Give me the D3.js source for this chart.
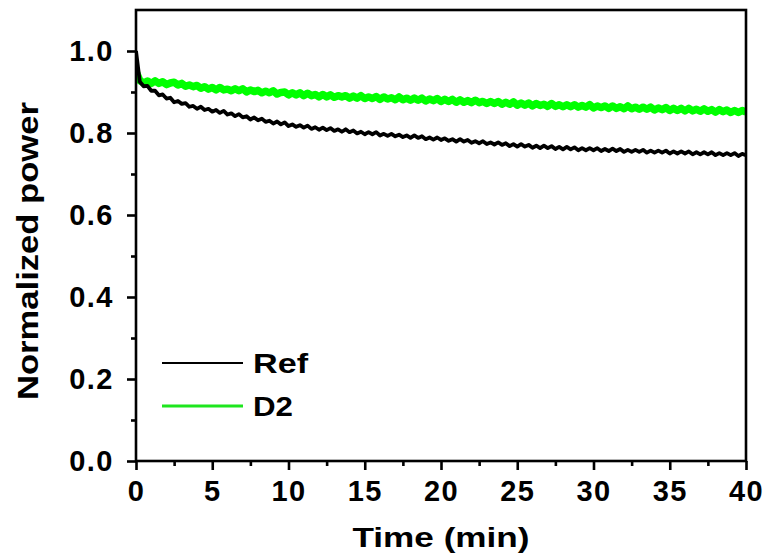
<!DOCTYPE html>
<html>
<head>
<meta charset="utf-8">
<script src="https://cdn.jsdelivr.net/npm/d3@7"></script>
<style>
  html, body { margin: 0; padding: 0; background: #fff; }
  svg { display: block; }
  text { font-family: "Liberation Sans", Arial, sans-serif; font-weight: bold; fill: #000; }
</style>
</head>
<body>
<svg id="chart" width="767" height="560"></svg>
<script>
// ---- data ----
const timeStep = 0.25; // min, sampling interval of both series (t = 0 ... 40)
const xTicks = [0, 5, 10, 15, 20, 25, 30, 35, 40];
const yTicks = [0.0, 0.2, 0.4, 0.6, 0.8, 1.0];
const yTickLabels = ["0.0", "0.2", "0.4", "0.6", "0.8", "1.0"];
const seriesNames = ["Ref", "D2"];
const refPower = [
  1.000,
  0.925, 0.914, 0.915, 0.903, 0.903, 0.892, 0.894, 0.884,
  0.886, 0.875, 0.878, 0.871, 0.873, 0.864, 0.866, 0.859,
  0.864, 0.856, 0.859, 0.852, 0.856, 0.849, 0.854, 0.845,
  0.848, 0.841, 0.846, 0.838, 0.841, 0.833, 0.838, 0.831,
  0.835, 0.827, 0.830, 0.823, 0.828, 0.821, 0.826, 0.817,
  0.821, 0.815, 0.819, 0.813, 0.818, 0.810, 0.814, 0.808,
  0.813, 0.807, 0.812, 0.805, 0.809, 0.803, 0.809, 0.802,
  0.806, 0.799, 0.803, 0.797, 0.802, 0.797, 0.802, 0.794,
  0.798, 0.793, 0.798, 0.792, 0.796, 0.790, 0.794, 0.788,
  0.794, 0.788, 0.792, 0.785, 0.789, 0.784, 0.789, 0.783,
  0.787, 0.781, 0.785, 0.779, 0.785, 0.779, 0.783, 0.776,
  0.780, 0.775, 0.780, 0.773, 0.777, 0.772, 0.777, 0.771,
  0.775, 0.768, 0.773, 0.767, 0.773, 0.767, 0.771, 0.764,
  0.769, 0.763, 0.769, 0.763, 0.768, 0.761, 0.766, 0.760,
  0.766, 0.760, 0.765, 0.758, 0.763, 0.758, 0.763, 0.758,
  0.763, 0.756, 0.761, 0.756, 0.762, 0.756, 0.761, 0.754,
  0.759, 0.754, 0.759, 0.754, 0.759, 0.752, 0.757, 0.752,
  0.757, 0.752, 0.757, 0.750, 0.755, 0.750, 0.755, 0.750,
  0.755, 0.748, 0.753, 0.748, 0.753, 0.748, 0.753, 0.746,
  0.751, 0.746, 0.751, 0.746, 0.751, 0.744, 0.749, 0.746
];
const d2Power = [
  0.950,
  0.928, 0.922, 0.927, 0.921, 0.927, 0.921, 0.925, 0.918,
  0.922, 0.924, 0.917, 0.921, 0.914, 0.917, 0.913, 0.916,
  0.909, 0.913, 0.907, 0.911, 0.905, 0.911, 0.905, 0.907,
  0.903, 0.908, 0.903, 0.908, 0.900, 0.905, 0.901, 0.904,
  0.898, 0.902, 0.898, 0.903, 0.895, 0.899, 0.900, 0.893,
  0.898, 0.893, 0.898, 0.891, 0.897, 0.891, 0.894, 0.888,
  0.894, 0.888, 0.893, 0.887, 0.891, 0.888, 0.891, 0.885,
  0.890, 0.885, 0.891, 0.884, 0.888, 0.884, 0.889, 0.882,
  0.888, 0.883, 0.886, 0.881, 0.888, 0.881, 0.885, 0.880,
  0.885, 0.880, 0.885, 0.878, 0.883, 0.879, 0.884, 0.877,
  0.882, 0.877, 0.882, 0.875, 0.881, 0.875, 0.879, 0.874,
  0.880, 0.874, 0.877, 0.872, 0.877, 0.872, 0.877, 0.870,
  0.875, 0.870, 0.876, 0.868, 0.873, 0.868, 0.873, 0.866,
  0.872, 0.867, 0.870, 0.865, 0.872, 0.865, 0.869, 0.864,
  0.869, 0.864, 0.869, 0.863, 0.867, 0.863, 0.869, 0.861,
  0.866, 0.862, 0.866, 0.860, 0.866, 0.860, 0.864, 0.859,
  0.866, 0.859, 0.863, 0.858, 0.863, 0.858, 0.863, 0.856,
  0.861, 0.857, 0.862, 0.855, 0.860, 0.855, 0.860, 0.854,
  0.860, 0.854, 0.858, 0.853, 0.859, 0.853, 0.857, 0.851,
  0.857, 0.852, 0.856, 0.850, 0.855, 0.850, 0.855, 0.851
];

// ---- layout ----
const margin = { left: 136, right: 21, top: 10, bottom: 99 };
const W = 767, H = 560;
const svg = d3.select("#chart");
const x = d3.scaleLinear().domain([0, 40]).range([margin.left, W - margin.right]);
const y = d3.scaleLinear().domain([0, 1.1]).range([H - margin.bottom, margin.top]);

svg.append("defs").append("clipPath").attr("id", "plotclip")
  .append("rect")
  .attr("x", x(0)).attr("y", y(1.1))
  .attr("width", x(40) - x(0)).attr("height", y(0) - y(1.1));

const line = d3.line()
  .x((d, i) => x(i * timeStep))
  .y(d => y(d));

const plot = svg.append("g").attr("clip-path", "url(#plotclip)");
plot.append("path").datum(d2Power)
  .attr("d", line).attr("fill", "none")
  .attr("stroke", "#00ff00").attr("stroke-width", 7.5).attr("stroke-linejoin", "round");
plot.append("path").datum(refPower)
  .attr("d", line).attr("fill", "none")
  .attr("stroke", "#000").attr("stroke-width", 3.8).attr("stroke-linejoin", "round");

// ---- frame ----
svg.append("rect")
  .attr("x", x(0)).attr("y", y(1.1))
  .attr("width", x(40) - x(0)).attr("height", y(0) - y(1.1))
  .attr("fill", "none").attr("stroke", "#000").attr("stroke-width", 2.6);

// ---- axes ----
const minorX = d3.range(2.5, 40, 5);
const minorY = d3.range(0.1, 1.1, 0.2);

const xAxis = svg.append("g").attr("transform", `translate(0,${y(0)})`)
  .call(d3.axisBottom(x).tickValues(xTicks).tickFormat(d3.format("d")).tickSize(9).tickPadding(10));
const xMinor = svg.append("g").attr("transform", `translate(0,${y(0)})`)
  .call(d3.axisBottom(x).tickValues(minorX).tickFormat("").tickSize(5));
const yAxis = svg.append("g").attr("transform", `translate(${x(0)},0)`)
  .call(d3.axisLeft(y).tickValues(yTicks).tickFormat((d, i) => yTickLabels[i]).tickSize(9).tickPadding(10));
const yMinor = svg.append("g").attr("transform", `translate(${x(0)},0)`)
  .call(d3.axisLeft(y).tickValues(minorY).tickFormat("").tickSize(5));

[xAxis, xMinor, yAxis, yMinor].forEach(g => {
  g.select(".domain").remove();
  g.selectAll(".tick line").attr("stroke", "#000").attr("stroke-width", 2.6);
});
xAxis.selectAll(".tick text")
  .style("font-family", '"Liberation Sans", Arial, sans-serif')
  .style("font-weight", "bold").style("font-size", "29px")
  .style("letter-spacing", "1.5px");
yAxis.selectAll(".tick text")
  .style("font-family", '"Liberation Sans", Arial, sans-serif')
  .style("font-weight", "bold").style("font-size", "29px")
  .style("letter-spacing", "1.5px")
  .attr("dx", "-3");

// ---- titles ----
svg.append("text")
  .attr("x", (x(0) + x(40)) / 2).attr("y", 547)
  .attr("text-anchor", "middle")
  .attr("textLength", 177).attr("lengthAdjust", "spacingAndGlyphs")
  .style("font-size", "28px")
  .text("Time (min)");
svg.append("text")
  .attr("transform", `translate(38,251) rotate(-90)`)
  .attr("text-anchor", "middle")
  .attr("textLength", 298).attr("lengthAdjust", "spacingAndGlyphs")
  .style("font-size", "30px")
  .text("Normalized power");

// ---- legend ----
const legendColors = ["#000", "#1ee61e"];
const legendWidths = [2, 3];
const legendTextLen = [55, 40];
const legendY = [363, 406];
seriesNames.forEach((name, i) => {
  svg.append("line")
    .attr("x1", 162).attr("x2", 243)
    .attr("y1", legendY[i]).attr("y2", legendY[i])
    .attr("stroke", legendColors[i]).attr("stroke-width", legendWidths[i]);
  svg.append("text")
    .attr("x", 253).attr("y", legendY[i] + 10)
    .attr("textLength", legendTextLen[i]).attr("lengthAdjust", "spacingAndGlyphs")
    .style("font-size", "28px")
    .text(name);
});
</script>
</body>
</html>
